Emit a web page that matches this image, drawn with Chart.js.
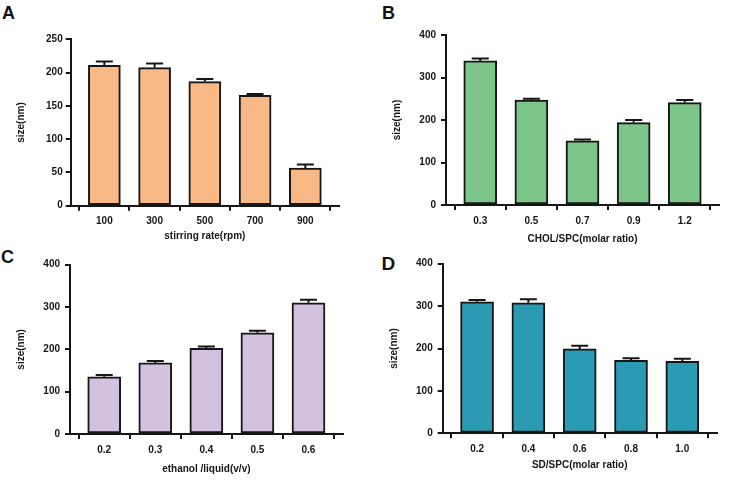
<!DOCTYPE html>
<html>
<head>
<meta charset="utf-8">
<script src="https://cdn.jsdelivr.net/npm/chart.js@4.4.1/dist/chart.umd.min.js"></script>
<style>
  html, body { margin: 0; padding: 0; background: #fff; }
  body { width: 753px; height: 487px; position: relative; overflow: hidden; font-family: "Liberation Sans", Arial, sans-serif; }
  canvas { position: absolute; left: 0; top: 0; }
  .lbl { position: absolute; font: bold 18px/1 "Liberation Sans", Arial, sans-serif; color: #111; }
</style>
</head>
<body>
<div class="lbl" style="left:2px;top:3.5px;">A</div>
<div class="lbl" style="left:382px;top:3.5px;">B</div>
<div class="lbl" style="left:1px;top:247.5px;">C</div>
<div class="lbl" style="left:381.5px;top:253.5px;font-size:19px;">D</div>
<canvas id="cA"></canvas>
<canvas id="cB"></canvas>
<canvas id="cC"></canvas>
<canvas id="cD"></canvas>
<script>
// ---- data ----
const stirCategories = ["100", "300", "500", "700", "900"];
const stirSize = [211, 207.5, 186.5, 166, 56.5];
const stirErr = [5.5, 6, 4, 2, 5.5];

const cholCategories = ["0.3", "0.5", "0.7", "0.9", "1.2"];
const cholSize = [339, 247, 151, 194, 241];
const cholErr = [6, 3, 3, 6, 6];

const ethCategories = ["0.2", "0.3", "0.4", "0.5", "0.6"];
const ethSize = [135, 168, 202.5, 239, 310];
const ethErr = [4.5, 4.5, 4, 5, 7];

const sdCategories = ["0.2", "0.4", "0.6", "0.8", "1.0"];
const sdSize = [310, 308, 199, 172, 170];
const sdErr = [4.5, 8, 7.5, 5, 6];

const yTicksA = { max: 250, step: 50 };
const yTicksOther = { max: 400, step: 100 };

// ---- drawing ----
const W = 753, H = 487;
const FONT = { family: '"Liberation Sans", Arial, sans-serif', size: 10, weight: 'bold' };
const INK = '#161616';

const errorBarPlugin = {
  id: 'errorBars',
  afterDatasetsDraw(chart) {
    const errs = chart.options.plugins.errorBars.errors;
    const ys = chart.scales.y;
    const meta = chart.getDatasetMeta(0);
    const ctx = chart.ctx;
    ctx.save();
    ctx.strokeStyle = INK;
    ctx.lineWidth = 2;
    meta.data.forEach((bar, i) => {
      const v = chart.data.datasets[0].data[i].y;
      const y0 = ys.getPixelForValue(v);
      const y1 = ys.getPixelForValue(v + errs[i]);
      ctx.beginPath();
      ctx.moveTo(bar.x, y0);
      ctx.lineTo(bar.x, y1);
      ctx.moveTo(bar.x - 8.5, y1);
      ctx.lineTo(bar.x + 8.5, y1);
      ctx.stroke();
    });
    ctx.restore();
  }
};

function makePanel(id, cats, vals, errs, color, yt, xTitle, geo) {
  const cv = document.getElementById(id);
  cv.width = W; cv.height = H;
  const titlePad = 2;
  const padLeft = geo.yTitleX - 6 - titlePad;
  const yWidth = geo.L - padLeft;
  const xHeight = geo.xTitleY - geo.B + 6 + titlePad;
  new Chart(cv, {
    type: 'bar',
    data: {
      datasets: [{
        data: vals.map((v, i) => ({ x: i, y: v })),
        backgroundColor: color,
        borderColor: INK,
        borderWidth: 2,
        borderSkipped: false,
        barThickness: geo.bw
      }]
    },
    options: {
      responsive: false,
      animation: false,
      devicePixelRatio: 1,
      layout: { padding: { left: padLeft, top: geo.T, right: W - geo.R, bottom: H - geo.B - xHeight } },
      plugins: {
        legend: { display: false },
        tooltip: { enabled: false },
        errorBars: { errors: errs }
      },
      scales: {
        x: {
          type: 'linear',
          min: -0.67, max: 4.67,
          offset: false,
          afterFit(s) { s.height = xHeight; },
          border: { color: INK, width: 2 },
          grid: { drawOnChartArea: false, drawTicks: true, tickLength: 5, color: INK, lineWidth: 2 },
          ticks: {
            stepSize: 1, includeBounds: false, autoSkip: false, maxRotation: 0,
            color: INK, font: FONT, padding: 5,
            callback: (v) => cats[v]
          },
          title: { display: true, text: xTitle, color: INK, font: FONT, padding: { top: 0, bottom: titlePad } }
        },
        y: {
          min: 0, max: yt.max,
          afterFit(s) { s.width = yWidth; },
          border: { color: INK, width: 2 },
          grid: { drawOnChartArea: false, drawTicks: true, tickLength: 5, color: INK, lineWidth: 2 },
          ticks: { stepSize: yt.step, color: INK, font: FONT, padding: geo.tp },
          title: { display: true, text: 'size(nm)', color: INK, font: FONT, padding: { top: titlePad, bottom: 0 } }
        }
      }
    },
    plugins: [errorBarPlugin]
  });
}

makePanel('cA', stirCategories, stirSize, stirErr, '#F9B987', yTicksA, 'stirring rate(rpm)',
  { L: 70.7, R: 339, T: 39.3, B: 205.7, yTitleX: 21.7, xTitleY: 236.7, bw: 32, tp: 3 });
makePanel('cB', cholCategories, cholSize, cholErr, '#7CC68A', yTicksOther, 'CHOL/SPC(molar ratio)',
  { L: 446, R: 719, T: 35, B: 205, yTitleX: 397.7, xTitleY: 239, bw: 33, tp: 5 });
makePanel('cC', ethCategories, ethSize, ethErr, '#D3C1E0', yTicksOther, 'ethanol /liquid(v/v)',
  { L: 70, R: 342.7, T: 264.7, B: 434, yTitleX: 21.7, xTitleY: 469.7, bw: 33, tp: 5 });
makePanel('cD', sdCategories, sdSize, sdErr, '#2A9BB2', yTicksOther, 'SD/SPC(molar ratio)',
  { L: 442.7, R: 716.7, T: 263.7, B: 433.3, yTitleX: 394.3, xTitleY: 465.7, bw: 33, tp: 5 });
</script>
</body>
</html>
